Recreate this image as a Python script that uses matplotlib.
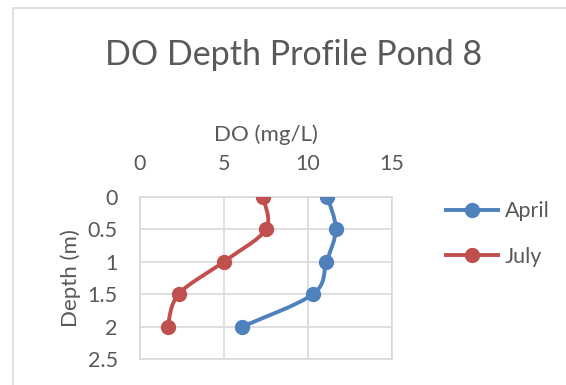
import matplotlib
matplotlib.use("Agg")
from matplotlib import pyplot as plt
from matplotlib.path import Path
from matplotlib.patches import PathPatch, Rectangle
from matplotlib.lines import Line2D
import numpy as np

plt.rcParams["font.family"] = ["Lato", "DejaVu Sans"]

depth = [0, 0.5, 1, 1.5, 2]
do_april = [11.15, 11.65, 11.1, 10.3, 6.1]
do_july = [7.3, 7.5, 5.0, 2.3, 1.65]
series = [("April", do_april, "#4F81BD"), ("July", do_july, "#C0504D")]

x_ticks = [0, 5, 10, 15]
y_ticks = [0, 0.5, 1, 1.5, 2, 2.5]
y_ticklabels = ["0", "0.5", "1", "1.5", "2", "2.5"]

grey_txt = "#595959"
grey_line = "#D9D9D9"


def smooth_path(x, y, t=1 / 6):
    # bezier segments through each point, Catmull-Rom style tangents
    pts = np.column_stack([x, y]).astype(float)
    n = len(pts)
    verts = [pts[0]]
    codes = [Path.MOVETO]
    for i in range(n - 1):
        p0 = pts[i - 1] if i > 0 else pts[i]
        p1 = pts[i]
        p2 = pts[i + 1]
        p3 = pts[i + 2] if i + 2 < n else pts[i + 1]
        c1 = p1 + (p2 - p0) * t
        c2 = p2 - (p3 - p1) * t
        verts += [c1, c2, p2]
        codes += [Path.CURVE4] * 3
    return Path(verts, codes)


fig = plt.figure(figsize=(5.66, 3.85), dpi=100)
fig.patches.append(Rectangle((13 / 566, -0.1), 1.2, 1.1 - 8 / 385,
                             transform=fig.transFigure, fill=False,
                             edgecolor=grey_line, linewidth=1.2))

ax = fig.add_axes([140 / 566, 1 - 359 / 385, 252 / 566, 162.3 / 385])
ax.set_xlim(0, 15)
ax.set_ylim(2.5, 0)
ax.set_xticks(x_ticks)
ax.set_yticks(y_ticks)
ax.set_yticklabels(y_ticklabels)
ax.xaxis.tick_top()
ax.xaxis.set_label_position("top")
ax.tick_params(length=0, labelsize=15.5, colors=grey_txt)
ax.tick_params(axis="x", pad=16)
ax.tick_params(axis="y", pad=16)
ax.grid(True, color=grey_line, linewidth=1.2)
ax.set_axisbelow(True)
for s in ax.spines.values():
    s.set_color(grey_line)
    s.set_linewidth(1.2)

ax.set_xlabel("DO (mg/L)", fontsize=16, color=grey_txt, labelpad=10)
ax.set_ylabel("Depth (m)", fontsize=16, color=grey_txt, labelpad=5)

for name, vals, col in series:
    ax.add_patch(PathPatch(smooth_path(vals, depth), fill=False,
                           edgecolor=col, linewidth=2.8, capstyle="round"))
    ax.plot(vals, depth, linestyle="none", marker="o", markersize=10,
            color=col, zorder=3)

handles = [Line2D([], [], color=c, linewidth=2.8, marker="o", markersize=10)
           for _, _, c in series]
fig.legend(handles, [s[0] for s in series], loc="center left",
           bbox_to_anchor=(427 / 566, 1 - 234 / 385), frameon=False,
           fontsize=15.5, labelcolor=grey_txt, handlelength=2.4,
           labelspacing=1.2, handletextpad=0.3)

fig.text(294 / 566, 1 - 55 / 385, "DO Depth Profile Pond 8", ha="center",
         va="center", fontsize=24.5, color=grey_txt)

fig.savefig("out.png", dpi=100)
